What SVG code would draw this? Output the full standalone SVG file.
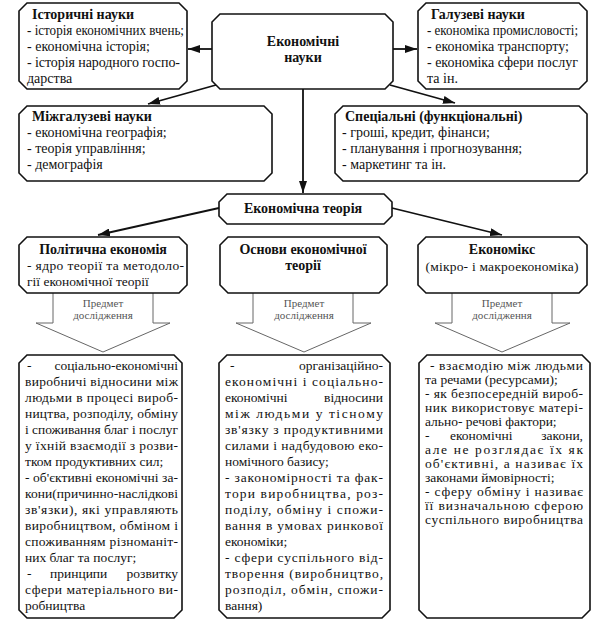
<svg xmlns="http://www.w3.org/2000/svg" width="600" height="626" viewBox="0 0 600 626" font-family="'Liberation Serif', 'Times New Roman', Tinos, 'DejaVu Serif', serif">
<style>
.box{fill:#fff;stroke:#111;stroke-width:1.6}
.blk{fill:#fff;stroke:#666;stroke-width:1}
.con{stroke:#111;stroke-width:1.8;fill:none}
text{font-family:'Liberation Serif','Times New Roman',Tinos,'DejaVu Serif',serif;font-size:13.5px;fill:#111}
.b{font-weight:bold;font-size:14px}
.L{font-size:14px}
.m{text-anchor:middle}
.e{text-anchor:end}
.s{font-size:11px;fill:#555}
</style>
<defs>
<marker id="ah" viewBox="0 0 12 8" refX="12" refY="4" markerWidth="12" markerHeight="8" markerUnits="userSpaceOnUse" orient="auto">
<path d="M0,0 L12,4 L0,8 z" fill="#111"/>
</marker>
</defs>
<rect width="600" height="626" fill="#fff"/>

<g id="connectors">
<line class="con" x1="212" y1="49" x2="188" y2="49" marker-end="url(#ah)"/>
<line class="con" x1="393" y1="49" x2="417" y2="49" marker-end="url(#ah)"/>
<line class="con" x1="216" y1="85" x2="148" y2="104" marker-end="url(#ah)"/>
<line class="con" x1="390" y1="85" x2="455" y2="103" marker-end="url(#ah)"/>
<line class="con" x1="303" y1="89" x2="303" y2="193" marker-end="url(#ah)"/>
<line class="con" x1="219" y1="208" x2="98" y2="235" marker-end="url(#ah)"/>
<line class="con" x1="392" y1="208" x2="502" y2="235" marker-end="url(#ah)"/>
<polyline class="blk" points="53,293 53,323 36,323 103,352 170,323 153,323 153,293"/>
<polyline class="blk" points="253,293 253,323 236,323 304,352 371,323 353,323 353,293"/>
<polyline class="blk" points="452,293 452,323 435,323 502,352 570,323 552,323 552,293"/>
<text class="s m" x="103" y="307">Предмет</text>
<text class="s m" x="103" y="319">дослідження</text>
<text class="s m" x="304" y="307">Предмет</text>
<text class="s m" x="304" y="319">дослідження</text>
<text class="s m" x="502" y="307">Предмет</text>
<text class="s m" x="502" y="319">дослідження</text>
</g>

<g id="hist">
<polygon class="box" points="27,3 179,3 187,11 187,81 179,89 27,89 19,81 19,11"/>
<text class="b" x="32" y="19">Історичні науки</text>
<text class="L" x="27" y="35" textLength="157" lengthAdjust="spacingAndGlyphs">- історія економічних вчень;</text>
<text class="L" x="27" y="51">- економічна історія;</text>
<text class="L" x="27" y="67" textLength="153" lengthAdjust="spacing">- історія народного госпо-</text>
<text class="L" x="27" y="83">дарства</text>
</g>

<g id="center">
<polygon class="box" points="220,14 385,14 393,22 393,81 385,89 220,89 212,81 212,22"/>
<text class="b m" x="303" y="46">Економічні</text>
<text class="b m" x="303" y="62">науки</text>
</g>

<g id="gal">
<polygon class="box" points="426,3 579,3 587,11 587,81 579,89 426,89 418,81 418,11"/>
<text class="b" x="431" y="19">Галузеві науки</text>
<text class="L" x="427" y="35" textLength="151" lengthAdjust="spacingAndGlyphs">- економіка промисловості;</text>
<text class="L" x="427" y="51">- економіка транспорту;</text>
<text class="L" x="427" y="67" textLength="151" lengthAdjust="spacing">- економіка сфери послуг</text>
<text class="L" x="427" y="83">та ін.</text>
</g>

<g id="mizh">
<polygon class="box" points="27,106 264,106 272,114 272,173 264,181 27,181 19,173 19,114"/>
<text class="b" x="32" y="121">Міжгалузеві науки</text>
<text class="L" x="27" y="137">- економічна географія;</text>
<text class="L" x="27" y="153">- теорія управління;</text>
<text class="L" x="27" y="169">- демографія</text>
</g>

<g id="spec">
<polygon class="box" points="343,106 579,106 587,114 587,173 579,181 343,181 335,173 335,114"/>
<text class="b" x="345" y="121">Спеціальні (функціональні)</text>
<text class="L" x="342" y="137">- гроші, кредит, фінанси;</text>
<text class="L" x="342" y="153">- планування і прогнозування;</text>
<text class="L" x="342" y="169">- маркетинг та ін.</text>
</g>

<g id="theory">
<polygon class="box" points="227,194 384,194 392,202 392,216 384,224 227,224 219,216 219,202"/>
<text class="b m" x="303" y="213">Економічна теорія</text>
</g>

<g id="pol">
<polygon class="box" points="27,237 179,237 187,245 187,285 179,293 27,293 19,285 19,245"/>
<text class="b m" x="103" y="254">Політична економія</text>
<text x="27" y="270" textLength="157" lengthAdjust="spacing">- ядро теорії та методоло-</text>
<text x="27" y="286">гії економічної теорії</text>
</g>

<g id="osn">
<polygon class="box" points="228,237 379,237 387,245 387,285 379,293 228,293 220,285 220,245"/>
<text class="b m" x="303" y="254">Основи економічної</text>
<text class="b m" x="303" y="270">теорії</text>
</g>

<g id="ekon">
<polygon class="box" points="426,237 579,237 587,245 587,285 579,293 426,293 418,285 418,245"/>
<text class="b m" x="502" y="254">Економікс</text>
<text class="m" x="502" y="271" textLength="153" lengthAdjust="spacing">(мікро- і макроекономіка)</text>
</g>

<g id="subj1">
<polygon class="box" points="27,355 174,355 182,363 182,610 174,618 27,618 19,610 19,363"/>
<text x="27" y="370">-</text>
<text class="e" x="178" y="370">соціально-економічні</text>
<text x="25" y="386" textLength="153" lengthAdjust="spacing">виробничі відносини між</text>
<text x="25" y="402" textLength="153" lengthAdjust="spacing">людьми в процесі вироб-</text>
<text x="25" y="418" textLength="153" lengthAdjust="spacing">ництва, розподілу, обміну</text>
<text x="25" y="434" textLength="153" lengthAdjust="spacingAndGlyphs">і споживання благ і послуг</text>
<text x="25" y="450" textLength="153" lengthAdjust="spacing">у їхній взаємодії з розви-</text>
<text x="25" y="466">тком продуктивних сил;</text>
<text x="25" y="482" textLength="153" lengthAdjust="spacing">- об'єктивні економічні за-</text>
<text x="25" y="498" textLength="153" lengthAdjust="spacing">кони(причинно-наслідкові</text>
<text x="25" y="514" textLength="153" lengthAdjust="spacing">зв'язки), які управляють</text>
<text x="25" y="530" textLength="153" lengthAdjust="spacing">виробництвом, обміном і</text>
<text x="25" y="546" textLength="153" lengthAdjust="spacing">споживанням різноманіт-</text>
<text x="25" y="562">них благ та послуг;</text>
<text x="27" y="578">-</text>
<text x="50" y="578">принципи</text>
<text class="e" x="178" y="578">розвитку</text>
<text x="25" y="594" textLength="153" lengthAdjust="spacing">сфери матеріального ви-</text>
<text x="25" y="610">робництва</text>
</g>

<g id="subj2">
<polygon class="box" points="227,355 382,355 390,363 390,610 382,618 227,618 219,610 219,363"/>
<text x="230" y="370">-</text>
<text class="e" x="383" y="370">організаційно-</text>
<text x="225" y="386" textLength="158" lengthAdjust="spacing">економічні і соціально-</text>
<text x="225" y="402">економічні</text>
<text class="e" x="383" y="402">відносини</text>
<text x="225" y="418" textLength="158" lengthAdjust="spacing">між людьми у тісному</text>
<text x="225" y="434" textLength="158" lengthAdjust="spacing">зв'язку з продуктивними</text>
<text x="225" y="450" textLength="158" lengthAdjust="spacing">силами і надбудовою еко-</text>
<text x="225" y="466">номічного базису;</text>
<text x="225" y="482" textLength="158" lengthAdjust="spacing">- закономірності та фак-</text>
<text x="225" y="498" textLength="158" lengthAdjust="spacing">тори виробництва, роз-</text>
<text x="225" y="514" textLength="158" lengthAdjust="spacing">поділу, обміну і спожи-</text>
<text x="225" y="530" textLength="158" lengthAdjust="spacing">вання в умовах ринкової</text>
<text x="225" y="546">економіки;</text>
<text x="225" y="562" textLength="158" lengthAdjust="spacing">- сфери суспільного від-</text>
<text x="225" y="578" textLength="158" lengthAdjust="spacing">творення (виробництво,</text>
<text x="225" y="594" textLength="158" lengthAdjust="spacing">розподіл, обмін, спожи-</text>
<text x="225" y="610">вання)</text>
</g>

<g id="subj3">
<polygon class="box" points="427,355 582,355 590,363 590,610 582,618 427,618 419,610 419,363"/>
<text x="430" y="370" textLength="153" lengthAdjust="spacing">- взаємодію між людьми</text>
<text x="425" y="384">та речами (ресурсами);</text>
<text x="425" y="398" textLength="158" lengthAdjust="spacing">- як безпосередній вироб-</text>
<text x="425" y="412" textLength="158" lengthAdjust="spacing">ник використовує матері-</text>
<text x="425" y="426">ально- речові фактори;</text>
<text x="425" y="440">-</text>
<text x="450" y="440">економічні</text>
<text class="e" x="583" y="440">закони,</text>
<text x="425" y="454" textLength="158" lengthAdjust="spacing">але не розглядає їх як</text>
<text x="425" y="468" textLength="158" lengthAdjust="spacing">об'єктивні, а називає їх</text>
<text x="425" y="482">законами ймовірності;</text>
<text x="425" y="496" textLength="158" lengthAdjust="spacing">- сферу обміну і називає</text>
<text x="425" y="510" textLength="158" lengthAdjust="spacing">її визначальною сферою</text>
<text x="425" y="524" textLength="158" lengthAdjust="spacing">суспільного виробництва</text>
</g>
</svg>
